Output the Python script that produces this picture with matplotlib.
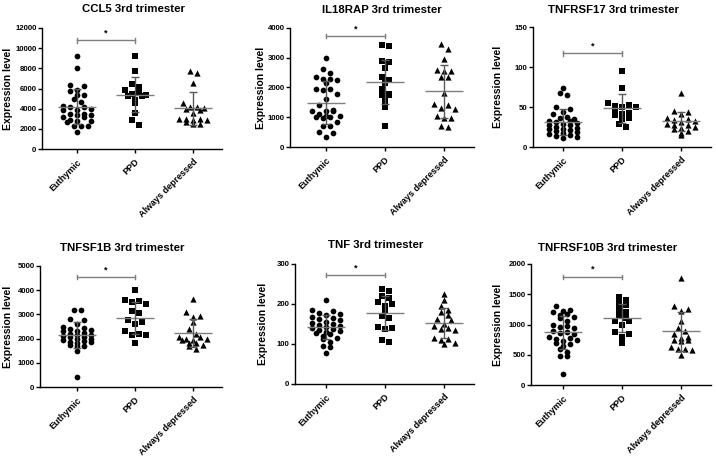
import numpy as np
import matplotlib
matplotlib.use("Agg")
import matplotlib.pyplot as plt

plt.rcParams['font.family'] = ['Liberation Sans', 'DejaVu Sans']
plt.rcParams['font.weight'] = 'bold'

groups = ["Euthymic", "PPD", "Always depressed"]
markers = ["o", "s", "^"]

# values (approximate)
ccl5_euth = [9250, 8050, 6350, 6250, 5900, 5750, 5400, 5350, 4950, 4700, 4250, 4200, 4150, 3950, 3900,
             3850, 3500, 3450, 3400, 3350, 3200, 3150, 2850, 2800, 2750, 2700, 2300, 2250, 2250, 1650]
ccl5_ppd = [9250, 7750, 6400, 6150, 5850, 5600, 5500, 5400, 5300, 5250, 4900, 4550, 3600, 2850, 2400]
ccl5_always = [7700, 7550, 6550, 4550, 4200, 4150, 4100, 4000, 3900, 3600, 3000, 2950, 2950, 2900,
               2850, 2700, 2500, 2450]

il18rap_euth = [3000, 2620, 2500, 2350, 2300, 2280, 2250, 2150, 1950, 1950, 1900, 1780, 1600, 1400, 1250,
                1220, 1200, 1200, 1100, 1050, 1030, 1000, 1000, 980, 850, 700, 700, 500, 480, 320]
il18rap_ppd = [3420, 3380, 2880, 2850, 2650, 2350, 2250, 2150, 1950, 1780, 1760, 1750, 1550, 1350, 720]
il18rap_always = [3450, 3280, 2950, 2580, 2560, 2540, 2350, 2340, 1800, 1450, 1420, 1300, 1290, 1050,
                  980, 960, 700, 680]

tnfrsf17_euth = [74, 67, 65, 50, 47, 44, 41, 38, 36, 35, 33, 32, 31, 30, 29, 28, 27, 25, 24, 23, 22, 21,
                 20, 19, 17, 16, 15, 14, 13, 11]
tnfrsf17_ppd = [95, 74, 55, 52, 51, 50, 50, 47, 42, 41, 40, 36, 35, 29, 25]
tnfrsf17_always = [68, 45, 44, 41, 36, 35, 34, 32, 31, 29, 28, 27, 25, 24, 22, 20, 18, 15]

tnfsf1b_euth = [3200, 3200, 2800, 2750, 2600, 2500, 2450, 2400, 2350, 2300, 2300, 2250, 2200, 2150, 2100,
                2050, 2050, 2000, 2000, 1950, 1900, 1850, 1850, 1800, 1750, 1700, 1700, 2150, 1500, 400]
tnfsf1b_ppd = [4000, 3600, 3550, 3500, 3450, 3150, 3050, 2750, 2700, 2600, 2300, 2200, 2150, 2150, 1800]
tnfsf1b_always = [3650, 3100, 2950, 2900, 2700, 2400, 2200, 2050, 2050, 2000, 2000, 1950, 1950, 1800,
                  1800, 1750, 1700, 1550]

tnf_euth = [210, 185, 182, 178, 175, 172, 168, 165, 162, 160, 155, 152, 150, 148, 145, 142, 140, 138, 135,
            132, 130, 128, 125, 120, 115, 112, 105, 95, 92, 78]
tnf_ppd = [237, 232, 220, 215, 205, 200, 195, 185, 170, 165, 143, 140, 137, 110, 105]
tnf_always = [225, 210, 195, 185, 180, 172, 162, 160, 150, 145, 140, 138, 135, 115, 112, 110, 102, 100]

tnfrsf10b_euth = [1300, 1240, 1230, 1200, 1180, 1150, 1120, 1100, 1050, 1000, 980, 960, 950, 900, 880,
                  860, 850, 800, 780, 760, 750, 720, 700, 680, 650, 600, 550, 480, 480, 180]
tnfrsf10b_ppd = [1450, 1400, 1350, 1320, 1250, 1200, 1150, 1100, 1050, 1050, 1000, 880, 850, 800, 700]
tnfrsf10b_always = [1770, 1300, 1250, 1230, 1050, 950, 900, 850, 800, 780, 750, 740, 720, 620, 600, 590,
                    580, 500]

titles = ["CCL5 3rd trimester", "IL18RAP 3rd trimester", "TNFRSF17 3rd trimester",
          "TNFSF1B 3rd trimester", "TNF 3rd trimester", "TNFRSF10B 3rd trimester"]
panel_data = [
    [ccl5_euth, ccl5_ppd, ccl5_always],
    [il18rap_euth, il18rap_ppd, il18rap_always],
    [tnfrsf17_euth, tnfrsf17_ppd, tnfrsf17_always],
    [tnfsf1b_euth, tnfsf1b_ppd, tnfsf1b_always],
    [tnf_euth, tnf_ppd, tnf_always],
    [tnfrsf10b_euth, tnfrsf10b_ppd, tnfrsf10b_always],
]
y_max = [12000, 4000, 150, 5000, 300, 2000]
y_step = [2000, 1000, 50, 1000, 100, 500]
sig_level = [10770, 3720, 117, 4540, 272, 1785]

# layout in pixels: axis left, first cat, last cat, top, bottom, ylabel offset, title x, title y
layout = [
    (42, 77, 193, 28, 149, 34, 134, 9),
    (290, 326, 444, 28, 147, 29, 382, 10),
    (533, 563, 681, 27, 147, 35, 613, 10),
    (40, 77, 193, 266, 387, 32, 122, 248),
    (295, 326, 444, 264, 384, 32, 376, 245),
    (531, 563, 681, 264, 385, 33, 608, 248),
]

W, H = 716, 459
fig = plt.figure(figsize=(W / 100, H / 100), dpi=100)


def swarm(vals, px_per_val, px_per_cat, dot=5.5, step=7.0, max_row=5):
    # prism-like layout: points close in y share a row, rows are centred
    vals = np.asarray(vals, dtype=float)
    order = np.argsort(-vals)
    offs = np.zeros(len(vals))
    rows, cur = [], [order[0]]
    for i in order[1:]:
        if (vals[cur[0]] - vals[i]) * px_per_val < dot and len(cur) < max_row:
            cur.append(i)
        else:
            rows.append(cur)
            cur = [i]
    rows.append(cur)
    for row in rows:
        n = len(row)
        pos = (np.arange(n) - (n - 1) / 2) * step
        idx = sorted(range(n), key=lambda k: (k % 2, k))
        for j, k in enumerate(idx):
            offs[row[k]] = pos[j] / px_per_cat
    return offs


for p in range(6):
    left, c0, c2, top, bottom, ylab, tx, ty = layout[p]
    spacing = (c2 - c0) / 2
    right = c2 + 0.5 * spacing
    ax = fig.add_axes([left / W, 1 - bottom / H, (right - left) / W, (bottom - top) / H])
    ax.set_xlim(-(c0 - left) / spacing, 2.5)
    ax.set_ylim(0, y_max[p])
    px_per_val = (bottom - top) / y_max[p]

    for g in range(3):
        vals = np.array(panel_data[p][g], dtype=float)
        xs = g + swarm(vals, px_per_val, spacing)
        ax.scatter(xs, vals, s=17 if g < 2 else 20, marker=markers[g], color="black",
                   linewidths=0, zorder=2, clip_on=False)
        m = vals.mean()
        sd = vals.std(ddof=1)
        ax.hlines(m, g - 0.33, g + 0.33, color="#7f7f7f", lw=1.0, zorder=3)
        ax.errorbar(g, m, yerr=sd, fmt="none", ecolor="#5a5a5a", elinewidth=1.0,
                    capsize=3.2, capthick=1.0, zorder=3)

    # significance bracket Euthymic vs PPD
    s = sig_level[p]
    tick = 0.018 * y_max[p]
    ax.plot([0, 1], [s, s], color="#7f7f7f", lw=1.0, clip_on=False)
    ax.plot([0, 0], [s - tick, s + tick], color="#7f7f7f", lw=1.0, clip_on=False)
    ax.plot([1, 1], [s - tick, s + tick], color="#7f7f7f", lw=1.0, clip_on=False)
    ax.text(0.5, s + 0.025 * y_max[p], "*", ha="center", va="bottom", fontsize=6.5,
            fontweight="bold")

    ax.set_yticks(np.arange(0, y_max[p] + 1, y_step[p]))
    ax.set_xticks(range(3))
    ax.set_xticklabels(groups, rotation=45, ha="right", rotation_mode="anchor", fontsize=6.5)
    ax.tick_params(axis="y", labelsize=5.6, length=3, width=1, pad=1)
    ax.tick_params(axis="x", length=3, width=1, pad=3)
    for side in ["top", "right"]:
        ax.spines[side].set_visible(False)
    for side in ["left", "bottom"]:
        ax.spines[side].set_linewidth(1.0)
    ax.set_ylabel("Expression level", fontsize=7.5, fontweight="bold")
    ax.yaxis.set_label_coords(-(ylab - 5) / (right - left), 0.5)
    fig.text(tx / W, 1 - ty / H, titles[p], ha="center", va="center", fontsize=8.2,
             fontweight="bold")

fig.savefig("out.png", dpi=100)
